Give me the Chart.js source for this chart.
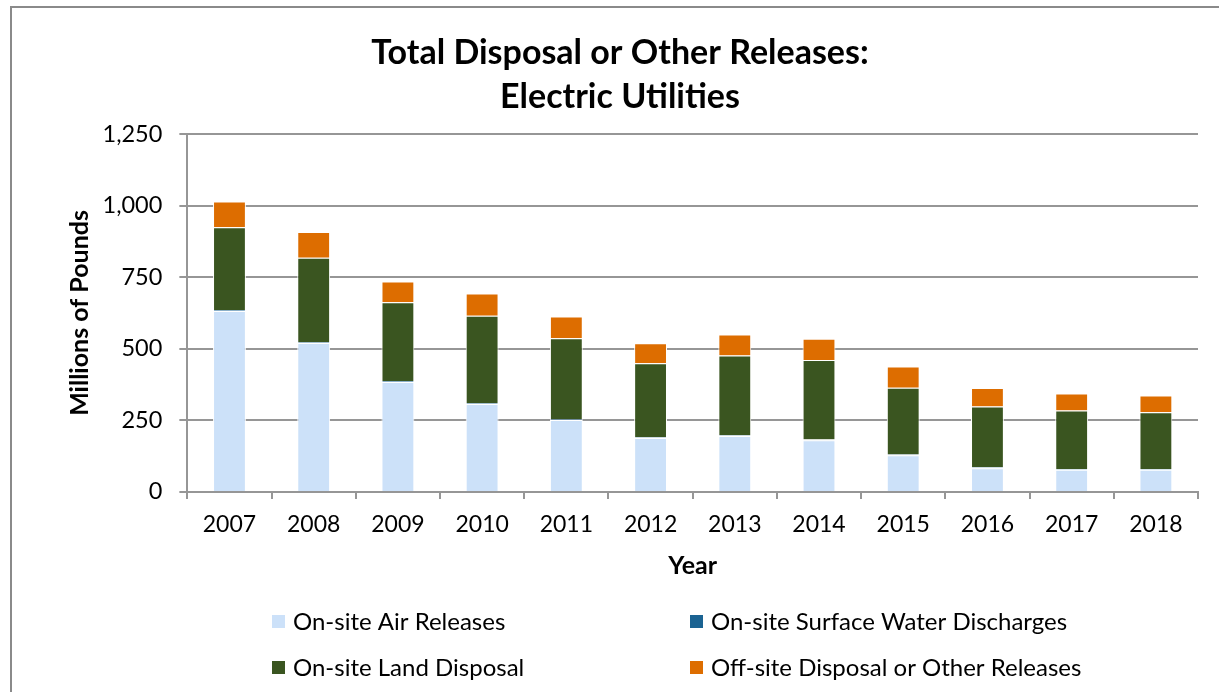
<!DOCTYPE html>
<html>
<head>
<meta charset="utf-8">
<script src="https://cdn.jsdelivr.net/npm/chart.js@4.4.1/dist/chart.umd.min.js"></script>
<style>
  html, body { margin: 0; padding: 0; background: #fff; }
  #wrap { position: relative; width: 1219px; height: 692px; }
</style>
</head>
<body>
<div id="wrap"><canvas id="chart" width="1219" height="692"></canvas></div>
<script>
const years = ['2007', '2008', '2009', '2010', '2011', '2012', '2013', '2014', '2015', '2016', '2017', '2018'];
const airReleases = [632, 520, 384, 307, 251, 188, 195, 180, 128, 83, 77, 77];
const waterDischarges = [3, 3, 3, 3, 3, 3, 3, 3, 3, 3, 3, 3];
const landDisposal = [289, 295, 275, 305, 283, 258, 278, 278, 233, 212, 204, 198];
const offsiteReleases = [90, 90, 73, 78, 76, 70, 74, 74, 74, 65, 60, 59];
const yTicks = [0, 250, 500, 750, 1000, 1250];

const FONT = "Lato, 'Open Sans', sans-serif";
const GRID = '#969696';

// legend drawn in two fixed columns like the original
const twoColLegend = {
  id: 'twoColLegend',
  afterDraw(chart) {
    const ctx = chart.ctx;
    const cols = [272, 690];
    const rows = [621, 667];
    ctx.save();
    ctx.font = '24px ' + FONT;
    ctx.textBaseline = 'middle';
    chart.data.datasets.forEach((ds, i) => {
      const x = cols[i % 2];
      const y = rows[Math.floor(i / 2)];
      ctx.fillStyle = ds.backgroundColor;
      ctx.fillRect(x, y - 6, 13, 13);
      ctx.fillStyle = '#000';
      ctx.fillText(ds.label, x + 21, y + 1);
    });
    ctx.restore();
  }
};

const frame = {
  id: 'frame',
  beforeDraw(chart) {
    const ctx = chart.ctx;
    ctx.save();
    ctx.strokeStyle = '#8a8a8a';
    ctx.lineWidth = 2;
    ctx.strokeRect(11, 7, 1400, 900);
    ctx.restore();
  }
};

function dataset(label, data, color) {
  return {
    label,
    data,
    backgroundColor: color,
    borderColor: '#ffffff',
    borderWidth: 1,
    categoryPercentage: 1,
    barPercentage: 0.39
  };
}

const ctx = document.getElementById('chart');
new Chart(ctx, {
  type: 'bar',
  data: {
    labels: years,
    datasets: [
      dataset('On-site Air Releases', airReleases, '#cce1f9'),
      dataset('On-site Surface Water Discharges', waterDischarges, '#1b6392'),
      dataset('On-site Land Disposal', landDisposal, '#3a5520'),
      dataset('Off-site Disposal or Other Releases', offsiteReleases, '#dd6d00')
    ]
  },
  options: {
    responsive: false,
    animation: false,
    // left padding also centres the title where the original has it
    layout: { padding: { top: 10, left: 42, right: 21, bottom: 109.5 } },
    plugins: {
      legend: { display: false },
      tooltip: { enabled: false },
      title: {
        display: true,
        text: ['Total Disposal or Other Releases:', 'Electric Utilities'],
        color: '#000',
        font: { family: FONT, size: 34, weight: 'bold', lineHeight: 1.3 },
        padding: { top: 21, bottom: 14.6 }
      }
    },
    scales: {
      x: {
        stacked: true,
        offset: true,
        grid: {
          offset: true,
          drawOnChartArea: false,
          color: GRID,
          lineWidth: 2,
          tickLength: 7
        },
        border: { color: GRID, width: 2 },
        ticks: {
          color: '#000',
          padding: 12,
          maxRotation: 0,
          font: { family: FONT, size: 23 }
        },
        title: {
          display: true,
          text: 'Year',
          color: '#000',
          font: { family: FONT, size: 25, weight: 'bold', lineHeight: 1 },
          padding: { top: 3, bottom: 4 }
        }
      },
      y: {
        stacked: true,
        min: 0,
        max: 1250,
        afterBuildTicks(scale) {
          scale.ticks = yTicks.map(v => ({ value: v }));
        },
        grid: {
          color: GRID,
          lineWidth: 2,
          tickLength: 8
        },
        border: { color: GRID, width: 2 },
        ticks: {
          color: '#000',
          padding: 17,
          font: { family: FONT, size: 23.5 },
          callback: v => v.toLocaleString('en-US')
        },
        title: {
          display: true,
          text: 'Millions of Pounds',
          color: '#000',
          font: { family: FONT, size: 25, weight: 'bold', lineHeight: 1 },
          padding: { top: 25.5, bottom: -7 }
        }
      }
    }
  },
  plugins: [frame, twoColLegend]
});
</script>
</body>
</html>
